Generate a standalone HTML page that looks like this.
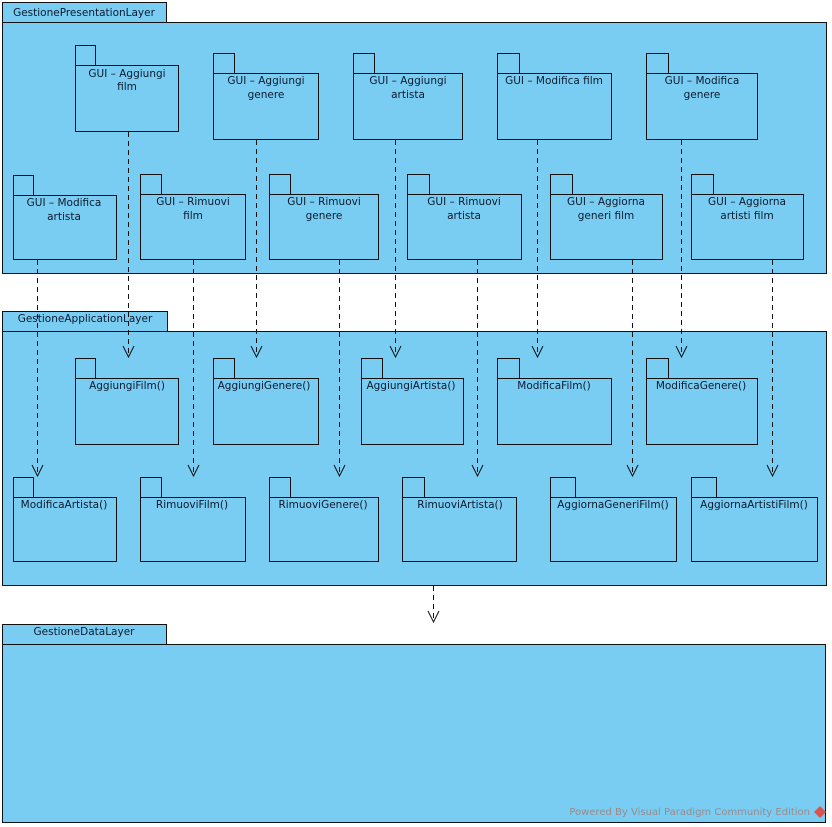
<!DOCTYPE html>
<html><head><meta charset="utf-8"><style>
html,body{margin:0;padding:0;background:#fff;width:832px;height:827px;overflow:hidden}
svg{display:block}
text{font-family:"DejaVu Sans","Liberation Sans",sans-serif;font-size:10.5px;fill:#0c1a2e;text-anchor:middle}
.p{fill:#7acdf2;stroke:#111;stroke-width:1}
.d{stroke:#111;stroke-width:1;stroke-dasharray:5,4;fill:none}
.a{stroke:#111;stroke-width:1;fill:none}
</style></head><body>
<svg width="832" height="827" viewBox="0 0 832 827" xmlns="http://www.w3.org/2000/svg">
<rect class="p" x="2.5" y="2.5" width="164" height="20"/>
<rect class="p" x="2.5" y="22.5" width="824" height="251"/>
<text x="84" y="16">GestionePresentationLayer</text>
<rect class="p" x="2.5" y="311.5" width="165" height="20"/>
<rect class="p" x="2.5" y="331.5" width="824" height="254"/>
<text x="85" y="322">GestioneApplicationLayer</text>
<rect class="p" x="2.5" y="624.5" width="164" height="20"/>
<rect class="p" x="2.5" y="644.5" width="823" height="178"/>
<text x="84" y="635">GestioneDataLayer</text>
<text x="810" y="815" style="fill:#9a8a8a;font-size:10px;text-anchor:end">Powered By Visual Paradigm Community Edition</text>
<path d="M820 806 l6 6 -6 6 -6 -6z" fill="#d9534f"/>

<rect class="p" x="75.5" y="45.5" width="20" height="20"/><rect class="p" x="75.5" y="65.5" width="103" height="66"/>
<text x="127" y="77">GUI – Aggiungi</text><text x="127" y="90">film</text>
<rect class="p" x="213.5" y="53.5" width="21" height="20"/><rect class="p" x="213.5" y="73.5" width="105" height="66"/>
<text x="266" y="84">GUI – Aggiungi</text><text x="266" y="98">genere</text>
<rect class="p" x="353.5" y="53.5" width="21" height="20"/><rect class="p" x="353.5" y="73.5" width="109" height="66"/>
<text x="408" y="84">GUI – Aggiungi</text><text x="408" y="98">artista</text>
<rect class="p" x="497.5" y="53.5" width="22" height="20"/><rect class="p" x="497.5" y="73.5" width="114" height="66"/>
<text x="554" y="84">GUI – Modifica film</text>
<rect class="p" x="646.5" y="53.5" width="22" height="20"/><rect class="p" x="646.5" y="73.5" width="111" height="66"/>
<text x="702" y="84">GUI – Modifica</text><text x="702" y="98">genere</text>
<rect class="p" x="13.5" y="175.5" width="20" height="20"/><rect class="p" x="13.5" y="195.5" width="103" height="64"/>
<text x="64" y="206">GUI – Modifica</text><text x="64" y="220">artista</text>
<rect class="p" x="140.5" y="174.5" width="21" height="20"/><rect class="p" x="140.5" y="194.5" width="105" height="65"/>
<text x="193" y="205">GUI –  Rimuovi</text><text x="193" y="219">film</text>
<rect class="p" x="269.5" y="174.5" width="21" height="20"/><rect class="p" x="269.5" y="194.5" width="109" height="65"/>
<text x="324" y="205">GUI – Rimuovi</text><text x="324" y="219">genere</text>
<rect class="p" x="407.5" y="174.5" width="22" height="20"/><rect class="p" x="407.5" y="194.5" width="114" height="65"/>
<text x="464" y="205">GUI – Rimuovi</text><text x="464" y="219">artista</text>
<rect class="p" x="550.5" y="174.5" width="22" height="20"/><rect class="p" x="550.5" y="194.5" width="112" height="65"/>
<text x="606" y="205">GUI – Aggiorna</text><text x="606" y="219">generi film</text>
<rect class="p" x="691.5" y="174.5" width="22" height="20"/><rect class="p" x="691.5" y="194.5" width="112" height="65"/>
<text x="747" y="205">GUI – Aggiorna</text><text x="747" y="219">artisti film</text>

<rect class="p" x="75.5" y="358.5" width="20" height="20"/><rect class="p" x="75.5" y="378.5" width="103" height="66"/>
<text x="127" y="389">AggiungiFilm()</text>
<rect class="p" x="213.5" y="358.5" width="21" height="20"/><rect class="p" x="213.5" y="378.5" width="105" height="66"/>
<text x="264" y="389">AggiungiGenere()</text>
<rect class="p" x="361.5" y="358.5" width="21" height="20"/><rect class="p" x="361.5" y="378.5" width="102" height="66"/>
<text x="411" y="389">AggiungiArtista()</text>
<rect class="p" x="497.5" y="358.5" width="22" height="20"/><rect class="p" x="497.5" y="378.5" width="114" height="66"/>
<text x="554" y="389">ModificaFilm()</text>
<rect class="p" x="646.5" y="358.5" width="22" height="20"/><rect class="p" x="646.5" y="378.5" width="111" height="66"/>
<text x="701" y="389">ModificaGenere()</text>
<rect class="p" x="13.5" y="477.5" width="20" height="20"/><rect class="p" x="13.5" y="497.5" width="103" height="64"/>
<text x="64" y="508">ModificaArtista()</text>
<rect class="p" x="140.5" y="477.5" width="21" height="20"/><rect class="p" x="140.5" y="497.5" width="105" height="64"/>
<text x="192" y="508">RimuoviFilm()</text>
<rect class="p" x="269.5" y="477.5" width="21" height="20"/><rect class="p" x="269.5" y="497.5" width="109" height="64"/>
<text x="323" y="508">RimuoviGenere()</text>
<rect class="p" x="402.5" y="477.5" width="22" height="20"/><rect class="p" x="402.5" y="497.5" width="114" height="64"/>
<text x="460" y="508">RimuoviArtista()</text>
<rect class="p" x="550.5" y="477.5" width="25" height="20"/><rect class="p" x="550.5" y="497.5" width="126" height="64"/>
<text x="613" y="508">AggiornaGeneriFilm()</text>
<rect class="p" x="691.5" y="477.5" width="25" height="20"/><rect class="p" x="691.5" y="497.5" width="126" height="64"/>
<text x="754" y="508">AggiornaArtistiFilm()</text>

<path class="d" d="M128.5 132V356M256.5 140V356M395.5 140V356M537.5 140V356M681.5 140V356"/>
<path class="d" d="M37.5 260V475M193.5 260V475M339.5 260V475M477.5 260V475M632.5 260V475M772.5 260V475"/>
<path class="d" d="M433.5 586V620"/>
<g class="a">
<path d="M123 346l5.5 11 5.5-11M251 346l5.5 11 5.5-11M390 346l5.5 11 5.5-11M532 346l5.5 11 5.5-11M676 346l5.5 11 5.5-11"/>
<path d="M32 465l5.5 11 5.5-11M188 465l5.5 11 5.5-11M334 465l5.5 11 5.5-11M472 465l5.5 11 5.5-11M627 465l5.5 11 5.5-11M767 465l5.5 11 5.5-11"/>
<path d="M428 611l5.5 11 5.5-11"/>
</g>
</svg>
</body></html>
